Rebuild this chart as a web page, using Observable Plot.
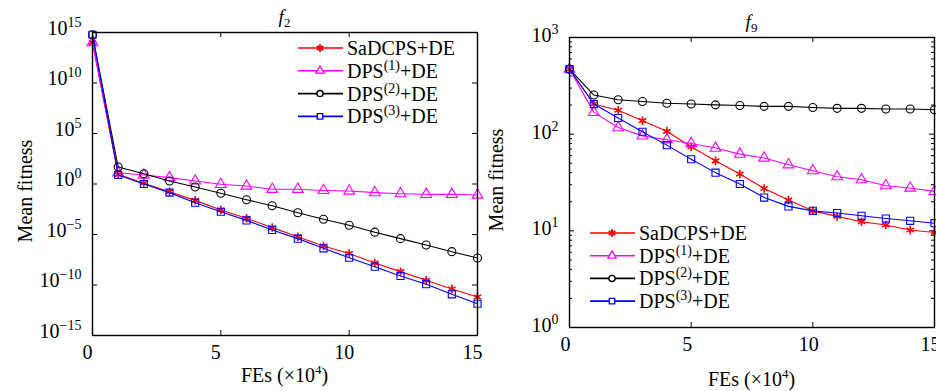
<!DOCTYPE html>
<html><head><meta charset="utf-8">
<script src="https://cdn.jsdelivr.net/npm/d3@7"></script>
<script src="https://cdn.jsdelivr.net/npm/@observablehq/plot@0.6"></script>
<style>
body{margin:0;background:#fff;}
#wrap{position:relative;width:936px;height:391px;overflow:hidden;background:#fff;font-family:"Liberation Serif","Times New Roman",serif;}
#wrap svg{position:absolute;top:0;}
#wrap svg text{font-family:"Liberation Serif","Times New Roman",serif;}
</style></head><body><div id="wrap"></div>
<script>
// ---- data (FEs in units of 10^4) ----
const fes = [0,1,2,3,4,5,6,7,8,9,10,11,12,13,14,15];
const seriesNames = ["SaDCPS+DE","DPS(1)+DE","DPS(2)+DE","DPS(3)+DE"];
const seriesColors = ["#ff0000","#ff00ff","#000000","#0000ff"];
const seriesSymbols = ["asterisk","triangle","circle","square"];

// f2
const f2_sadcps = [1e14, 9.1, 1.2, 0.17, 2.4e-2, 2.7e-3, 4.0e-4, 4.8e-5, 6.0e-6, 7.2e-7, 1.3e-7, 1.5e-8, 2.1e-9, 2.9e-10, 4.0e-11, 6.5e-12];
const f2_dps1   = [1e14, 13, 7.8, 4.3, 2.0, 0.93, 0.63, 0.30, 0.30, 0.23, 0.20, 0.14, 0.11, 0.095, 0.095, 0.081];
const f2_dps2   = [6e14, 48, 10.5, 2.0, 0.5, 0.12, 0.028, 7.1e-3, 1.4e-3, 3.2e-4, 8.1e-5, 1.7e-5, 3.9e-6, 9.1e-7, 2.0e-7, 4.7e-8];
const f2_dps3   = [6e14, 7.8, 1.0, 0.14, 1.4e-2, 1.8e-3, 2.5e-4, 2.8e-5, 3.9e-6, 4.3e-7, 5.0e-8, 6.5e-9, 7.9e-10, 1.2e-10, 1.2e-11, 1.4e-12];
// f9
const f9_sadcps = [470, 205, 177, 138, 107, 74, 53, 38.7, 27.4, 20.8, 16.1, 14.1, 12.4, 11.5, 10.2, 9.6];
const f9_dps1   = [470, 168, 117, 96, 87.5, 80, 71.8, 62.2, 56.6, 48.3, 41.9, 36.3, 33.8, 29.3, 27.7, 25.6];
const f9_dps2   = [470, 254, 227, 218, 209, 205, 201, 198, 194, 194, 189, 185, 185, 182, 182, 179];
const f9_dps3   = [470, 205, 147, 106, 77, 55, 40, 30.5, 22.1, 17.9, 16.1, 15.3, 14.3, 13.4, 12.7, 12.0];

const xTickValues = [0,5,10,15];
const f2Ticks = [1e-15,1e-10,1e-5,1e0,1e5,1e10,1e15];
const f9Ticks = [1,10,100,1000];
const f9Minor = [2,3,4,5,6,7,8,9,20,30,40,50,60,70,80,90,200,300,400,500,600,700,800,900];

const FONT = "'Liberation Serif','Times New Roman',serif";
const SVGNS = "http://www.w3.org/2000/svg";
function supText(parent, parts, attrs){
  const t = d3.select(parent).append("text").attr("font-family", FONT);
  for (const k in attrs) t.attr(k, attrs[k]);
  parts.forEach(p => {
    const s = t.append("tspan").text(p.t);
    if (p.dy) s.attr("dy", p.dy);
    if (p.fs) s.attr("font-size", p.fs);
    if (p.style) s.attr("font-style", p.style);
  });
  return t;
}
function labelParts(name){
  const m = name.match(/^DPS\((\d)\)\+DE$/);
  if (!m) return [{t:name}];
  return [{t:"DPS"},{t:"("+m[1]+")", dy:-8, fs:14},{t:"+DE", dy:8}];
}

function panel(cfg){
  const {left, W, H, m, values, yDomain, yTicks, yMinor, title, legend, yLabelDy, xLabelDx, yLabelX, yLabelY, xLabelY} = cfg;
  const iw = W - m.left - m.right, ih = H - m.top - m.bottom;
  const innerX = xTickValues.filter(v => v > 0 && v < 15);
  const innerY = yTicks.slice(1, -1);
  const marks = [
    Plot.tickX(innerX, {x: d => d, insetTop: ih - 5, stroke: "black"}),
    Plot.tickX(innerX, {x: d => d, insetBottom: ih - 5, stroke: "black"}),
    Plot.tickY(innerY, {y: d => d, insetRight: iw - 5, stroke: "black"}),
    Plot.tickY(innerY, {y: d => d, insetLeft: iw - 5, stroke: "black"})
  ];
  if (yMinor) {
    marks.push(Plot.tickY(yMinor, {y: d => d, insetRight: iw - 3, stroke: "black"}));
    marks.push(Plot.tickY(yMinor, {y: d => d, insetLeft: iw - 3, stroke: "black"}));
  }
  marks.push(Plot.axisX(xTickValues, {tickSize: 0, tickPadding: 9, fontSize: 20, dx: xLabelDx, label: null, tickFormat: d => String(d)}));
  marks.push(Plot.axisY(yTicks, {tickSize: 0, tickPadding: 11, fontSize: 20, dy: yLabelDy, label: null,
    tickFormat: d => "10^" + Math.round(Math.log10(d))}));
  values.forEach((vals, i) => {
    const rows = fes.map((x, j) => ({x, y: vals[j]}));
    marks.push(Plot.line(rows, {x: "x", y: "y", stroke: seriesColors[i], strokeWidth: 1.1}));
    marks.push(Plot.dot(rows, {x: "x", y: "y", symbol: () => seriesSymbols[i], r: 4,
      fill: "none", stroke: seriesColors[i], strokeWidth: i === 0 ? 1.6 : 1.1}));
  });
  marks.push(Plot.frame({stroke: "black", strokeWidth: 1.4}));
  const svg = Plot.plot({
    width: W, height: H,
    marginTop: m.top, marginBottom: m.bottom, marginLeft: m.left, marginRight: m.right,
    x: {domain: [0, 15], axis: null, label: null},
    y: {type: "log", domain: yDomain, axis: null, label: null},
    symbol: {type: "identity"},
    style: {fontFamily: FONT, fontSize: "20px", background: "transparent", overflow: "visible", color: "black"},
    marks
  });
  svg.style.left = left + "px";
  // superscript tick labels
  svg.querySelectorAll('g[aria-label="y-axis tick label"] text').forEach(t => {
    const s = t.textContent;
    const e = s.split("^")[1].replace("-", "\u2212");
    t.textContent = "";
    const a = document.createElementNS(SVGNS, "tspan"); a.textContent = "10";
    const b = document.createElementNS(SVGNS, "tspan"); b.textContent = e;
    b.setAttribute("dy", "-8"); b.setAttribute("font-size", "14");
    t.appendChild(a); t.appendChild(b);
  });
  const g = svg;
  const cx = m.left + iw / 2;
  // title
  supText(g, [{t: "f", style: "italic"}, {t: title, dy: 4, fs: 13}],
    {x: cx, y: m.top - 9, "text-anchor": "middle", "font-size": 19, fill: "black"});
  // x label
  supText(g, [{t: "FEs (\u00d710"}, {t: "4", dy: -8, fs: 13}, {t: ")", dy: 8}],
    {x: cx, y: xLabelY, "text-anchor": "middle", "font-size": 20, fill: "black"});
  // y label
  supText(g, [{t: "Mean fitness"}],
    {transform: `translate(${yLabelX},${yLabelY}) rotate(-90)`, "text-anchor": "middle", "font-size": 20, fill: "black"});
  // legend
  const lg = d3.select(g).append("g");
  seriesNames.forEach((name, i) => {
    const y = legend.y + i * legend.dy;
    lg.append("line").attr("x1", legend.x).attr("x2", legend.x + 45).attr("y1", y).attr("y2", y)
      .attr("stroke", seriesColors[i]).attr("stroke-width", 1.6);
    const sym = {asterisk: d3.symbolAsterisk, triangle: d3.symbolTriangle, circle: d3.symbolCircle, square: d3.symbolSquare}[seriesSymbols[i]];
    lg.append("path").attr("d", d3.symbol(sym, i === 0 ? 40 : 30)()).attr("transform", `translate(${legend.x + 22},${y})`)
      .attr("fill", i === 0 ? seriesColors[i] : "white").attr("stroke", seriesColors[i]).attr("stroke-width", i === 0 ? 2 : 1.3);
    supText(lg.node(), labelParts(name), {x: legend.x + 49, y: y + 7, "text-anchor": "start", "font-size": 20, fill: "black"});
  });
  document.getElementById("wrap").appendChild(svg);
}

panel({left: 0, W: 490, H: 391, m: {top: 32, bottom: 56, left: 92, right: 13},
  values: [f2_sadcps, f2_dps1, f2_dps2, f2_dps3], yDomain: [1e-15, 1e15], yTicks: f2Ticks,
  title: "2", legend: {x: 298, y: 48, dy: 22.8}, yLabelDy: -4, xLabelDx: -5, yLabelX: 32, yLabelY: 191, xLabelY: 382});
panel({left: 470, W: 466, H: 391, m: {top: 37, bottom: 64, left: 99, right: 2},
  values: [f9_sadcps, f9_dps1, f9_dps2, f9_dps3], yDomain: [1, 1000], yTicks: f9Ticks, yMinor: f9Minor,
  title: "9", legend: {x: 120, y: 233, dy: 22.7}, yLabelDy: -2, xLabelDx: -4, yLabelX: 33, yLabelY: 180, xLabelY: 386});
</script></body></html>
